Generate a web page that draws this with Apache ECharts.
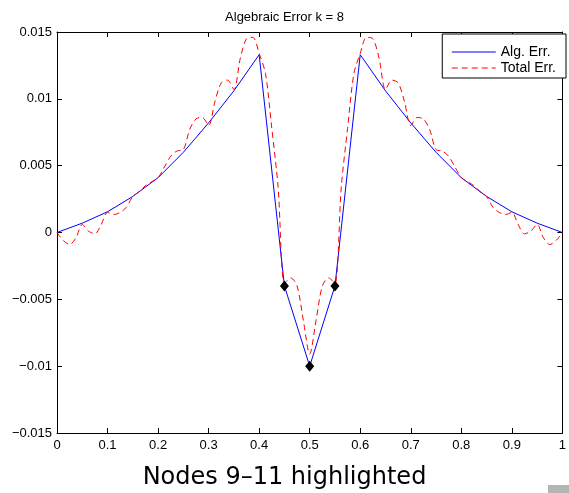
<!DOCTYPE html>
<html>
<head>
<meta charset="utf-8">
<script src="https://cdn.jsdelivr.net/npm/echarts@6/dist/echarts.min.js"></script>
<style>
html,body{margin:0;padding:0;background:#fff;}
#chart{width:569px;height:493px;}
</style>
</head>
<body>
<div id="chart"></div>
<script>
// ---- data ----
const nodeX = [0,0.05,0.1,0.15,0.2,0.25,0.3,0.35,0.4,0.45,0.5,0.55,0.6,0.65,0.7,0.75,0.8,0.85,0.9,0.95,1];
const algErr = [0,0.0007,0.00155,0.0027,0.0041,0.006,0.0082,0.0106,0.0133,-0.004,-0.010,-0.004,0.0133,0.0106,0.0082,0.006,0.0041,0.0027,0.00155,0.0007,0];

const totalX = [0,0.0125,0.025,0.0375,0.05,0.0625,0.075,0.0875,0.1,0.1125,0.125,0.1375,0.15,0.1625,0.175,0.1875,0.2,0.2125,0.225,0.2375,0.25,0.2625,0.275,0.2875,0.3,0.3125,0.325,0.3375,0.35,0.3625,0.375,0.3875,0.4,0.4125,0.425,0.4375,0.45,0.4625,0.475,0.4875,0.5,
  0.5125,0.525,0.5375,0.55,0.5625,0.575,0.5875,0.6,0.6125,0.625,0.6375,0.65,0.6625,0.675,0.6875,0.7,0.7125,0.725,0.7375,0.75,0.7625,0.775,0.7875,0.8,0.8125,0.825,0.8375,0.85,0.8625,0.875,0.8875,0.9,0.9125,0.925,0.9375,0.95,0.9625,0.975,0.9875,1];
const totalErr = [0,-0.0006,-0.0009,-0.0004,0.0006,0.0001,-0.0001,0.0006,0.0015,0.00135,0.0015,0.0019,0.0027,0.00305,0.0035,0.0038,0.0041,0.0049,0.0057,0.0061,0.0062,0.0077,0.0085,0.0086,0.0080,0.0098,0.0112,0.0114,0.0107,0.0130,0.0145,0.0146,0.0134,0.0119,0.0078,0.0034,-0.0038,-0.0034,-0.0040,-0.0066,-0.0091,
  -0.0066,-0.0040,-0.0034,-0.0038,0.0034,0.0078,0.0119,0.0134,0.0146,0.0145,0.0130,0.0107,0.0114,0.0112,0.0098,0.0080,0.0086,0.0085,0.0077,0.0062,0.0061,0.0057,0.0049,0.0041,0.0038,0.0035,0.00305,0.0027,0.0019,0.0015,0.00135,0.0015,0.0006,-0.0001,0.0001,0.0006,-0.0004,-0.0009,-0.0006,0];

const highlightX = [0.45,0.5,0.55];
const highlightY = [-0.004,-0.010,-0.004];

const xTickLabels = ['0','0.1','0.2','0.3','0.4','0.5','0.6','0.7','0.8','0.9','1'];
const yTickLabels = ['\u22120.015','\u22120.01','\u22120.005','0','0.005','0.01','0.015'];

const titleText = 'Algebraic Error k = 8';
const captionText = 'Nodes 9\u201311 highlighted';
const legendNames = ['Alg. Err.','Total Err.'];

// ---- chart ----
const zip = (xs, ys) => xs.map((x,i)=>[x, ys[i]]);
const chart = echarts.init(document.getElementById('chart'), null, {renderer:'canvas'});
const FONT = 'Liberation Sans, Arial, sans-serif';
const axisCommon = {
  axisLine:{show:true,onZero:false,lineStyle:{color:'#000',width:1}},
  axisTick:{show:true,inside:true,length:5,lineStyle:{color:'#000',width:1}},
  splitLine:{show:false}
};
chart.setOption({
  animation:false,
  backgroundColor:'#fff',
  title:{text:titleText,left:'center',top:6,textStyle:{fontFamily:FONT,fontSize:13,fontWeight:'normal',color:'#000'}},
  legend:{
    data:legendNames, orient:'vertical', right:3, top:34,
    backgroundColor:'#fff', borderColor:'#000', borderWidth:1, borderRadius:0,
    padding:[11,10,3,9], itemGap:2, itemWidth:44, itemHeight:14,
    itemStyle:{opacity:0},
    lineStyle:{width:1},
    textStyle:{fontFamily:FONT,fontSize:14,color:'#000'}
  },
  grid:{left:57,right:2,top:32,bottom:60,containLabel:false},
  xAxis:[
    Object.assign({type:'value',min:0,max:1,interval:0.1,position:'bottom',
      axisLabel:{color:'#000',fontFamily:FONT,fontSize:13,margin:6,
        formatter:(v)=>xTickLabels[Math.round(v*10)]}}, axisCommon),
    Object.assign({type:'value',min:0,max:1,interval:0.1,position:'top',
      axisLabel:{show:false}}, axisCommon)
  ],
  yAxis:[
    Object.assign({type:'value',min:-0.015,max:0.015,interval:0.005,position:'left',
      axisLabel:{color:'#000',fontFamily:FONT,fontSize:13,margin:5,
        formatter:(v)=>yTickLabels[Math.round((v+0.015)/0.005)]}}, axisCommon),
    Object.assign({type:'value',min:-0.015,max:0.015,interval:0.005,position:'right',
      axisLabel:{show:false}}, axisCommon)
  ],
  series:[
    {name:legendNames[0],type:'line',data:zip(nodeX,algErr),symbol:'none',
      lineStyle:{color:'#0000ff',width:1},itemStyle:{color:'#0000ff'},z:2},
    {name:legendNames[1],type:'line',data:zip(totalX,totalErr),symbol:'none',smooth:0.3,
      lineStyle:{color:'#ff0000',width:1,type:[6,4]},itemStyle:{color:'#ff0000'},z:3},
    {name:'nodes',type:'scatter',data:zip(highlightX,highlightY),symbol:'diamond',symbolSize:[9,11],
      itemStyle:{color:'#000',opacity:1},z:4}
  ],
  graphic:[
    {type:'text',left:'center',top:466,style:{text:captionText,fontFamily:'DejaVu Sans, sans-serif',fontSize:24,fill:'#000'}},
    {type:'rect',shape:{x:548,y:485,width:21,height:8},style:{fill:'#b4b4b4'}}
  ]
});
</script>
</body>
</html>
